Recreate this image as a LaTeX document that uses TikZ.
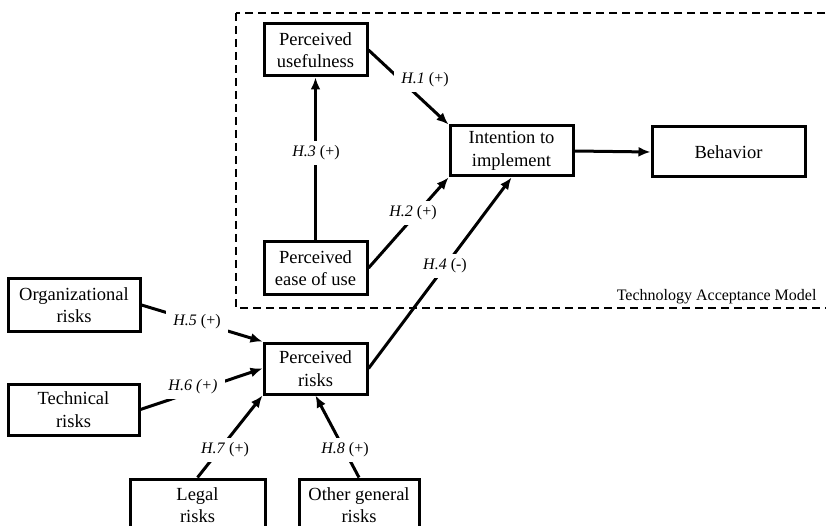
\documentclass[tikz,border=0pt]{standalone}
\usepackage{fontspec}
\setmainfont{Liberation Serif}
\usetikzlibrary{arrows.meta}
\begin{document}
\begin{tikzpicture}[x=1pt,y=-1pt,
 box/.style={draw,line width=3pt,inner sep=0pt,align=center,font=\fontsize{18.5}{22.5}\selectfont},
 conn/.style={line width=3pt,-{Latex[length=12pt,width=10pt]}},
 lbl/.style={fill=white,inner xsep=7pt,inner ysep=5pt,font=\fontsize{16}{19}\selectfont}]
\useasboundingbox (0,0) rectangle (826,526);
\clip (0,0) rectangle (826,526);
\draw[line width=1.5pt,dash pattern=on 8pt off 5pt] (236,13) rectangle (840,308);
\node[anchor=base east,font=\fontsize{16}{19}\selectfont] (tam) at (820,300) {Technology Acceptance Model};
\node[box,minimum width=103pt,minimum height=52pt] (pu) at (315.5,50) {Perceived\\usefulness};
\node[box,minimum width=123pt,minimum height=50pt] (int) at (511.5,151) {Intention to\\implement};
\node[box,minimum width=153pt,minimum height=50pt] (beh) at (728.5,152) {Behavior};
\node[box,minimum width=103pt,minimum height=52pt] (peu) at (315.5,268) {Perceived\\ease of use};
\node[box,minimum width=132pt,minimum height=52pt] (org) at (74,305) {Organizational\\risks};
\node[box,minimum width=131pt,minimum height=51pt] (tech) at (73.5,409.5) {Technical\\risks};
\node[box,minimum width=103pt,minimum height=51pt] (pr) at (315.5,368.5) {Perceived\\risks};
\node[box,minimum width=135pt,minimum height=52pt] (legal) at (197.5,505) {Legal\\risks};
\node[box,minimum width=120pt,minimum height=52pt] (other) at (359,505) {Other general\\risks};
\draw[conn] (pu.east) -- (int.north west);
\draw[conn] (peu.east) -- (int.south west);
\draw[conn] (peu.north) -- (pu.south);
\draw[conn] (pr.east) -- (int.south);
\draw[conn] (int.east) -- (beh.west);
\draw[conn] (org.east) -- (pr.north west);
\draw[conn] (tech.east) -- (pr.west);
\draw[conn] (legal.north) -- (pr.south west);
\draw[conn] (other.north) -- (pr.south);
\node[lbl] (h1) at (425,80) {\textit{H.1} (+)};
\node[lbl] (h2) at (413,213) {\textit{H.2} (+)};
\node[lbl] (h3) at (316,153) {\textit{H.3} (+)};
\node[lbl] (h4) at (445,266) {\textit{H.4} (-)};
\node[lbl] (h5) at (197,322) {\textit{H.5} (+)};
\node[lbl] (h6) at (193,387) {\textit{H.6 (+)}};
\node[lbl] (h7) at (225,450) {\textit{H.7} (+)};
\node[lbl] (h8) at (345,450) {\textit{H.8} (+)};
\end{tikzpicture}
\end{document}
